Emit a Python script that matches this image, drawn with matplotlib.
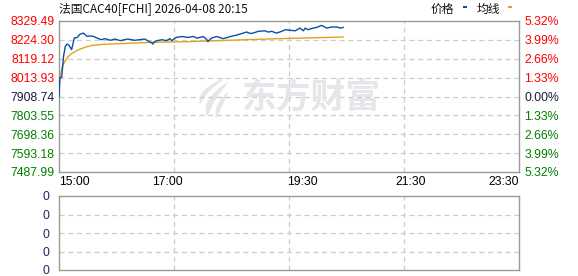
import matplotlib
matplotlib.use("Agg")
import matplotlib.pyplot as plt
from matplotlib.patches import Rectangle, Polygon
import numpy as np

# ---- data ----
title = "法国CAC40[FCHI] 2026-04-08 20:15"
prev_close = 7908.74
y_labels_left = ["8329.49", "8224.30", "8119.12", "8013.93", "7908.74",
                 "7803.55", "7698.36", "7593.18", "7487.99"]
y_labels_right = ["5.32%", "3.99%", "2.66%", "1.33%", "0.00%",
                  "1.33%", "2.66%", "3.99%", "5.32%"]
x_tick_minutes = [0, 120, 270, 390, 510]
x_tick_labels = ["15:00", "17:00", "19:30", "21:30", "23:30"]
session_minutes = 510

price_minutes = [0, 1, 3, 5, 7, 9, 11, 14, 17, 20, 23, 27, 31, 34, 38, 42, 47, 51,
                 57, 62, 68, 76, 84, 95, 103, 104, 106, 109, 114, 119, 123, 125,
                 130, 137, 142, 149, 153, 160, 164, 165, 169, 175, 182, 190, 197,
                 203, 208, 212, 215, 221, 228, 232, 236, 241, 247, 251, 256, 262,
                 267, 271, 273, 276, 282, 286, 291, 297, 302, 308, 312, 315]
price_values = [7908.7, 8015, 8015, 8132, 8188, 8201, 8195, 8170, 8235, 8237, 8255,
                8262, 8244, 8246, 8244, 8235, 8225, 8231, 8222, 8229, 8220, 8229,
                8222, 8229, 8207, 8201, 8215, 8220, 8225, 8220, 8231, 8220, 8238,
                8243, 8238, 8243, 8234, 8243, 8225, 8215, 8234, 8243, 8231, 8243,
                8251, 8260, 8268, 8260, 8262, 8272, 8275, 8268, 8272, 8262, 8272,
                8281, 8278, 8275, 8290, 8275, 8290, 8281, 8290, 8294, 8305, 8290,
                8296, 8296, 8290, 8294]

avg_minutes = [0, 2, 4, 7, 10, 14, 21, 29, 36, 51, 80, 106, 141, 170, 200, 230,
               260, 290, 315]
avg_values = [7975, 8040, 8080, 8107, 8130, 8148, 8168, 8183, 8193, 8200, 8206,
              8211, 8214, 8219, 8224, 8229, 8233, 8237, 8240]

vol_labels = ["0", "0", "0", "0", "0"]

# ---- style ----
W, H = 578, 276
fig = plt.figure(figsize=(W / 100, H / 100), dpi=100)
num_font = "Liberation Sans"
cjk = ["Noto Sans CJK SC", "DejaVu Sans"]
fs = 8.8
red = "#ff0000"
green = "#008000"
spine_c = "#999999"
grid_c = "#cccccc"
wm_c = "#e6e6ea"

def fx(px):
    return px / W

def fy(py):
    return 1 - py / H

ax = fig.add_axes([fx(59), fy(172), fx(519) - fx(59), fy(21) - fy(172)])
axv = fig.add_axes([fx(59), fy(270), fx(519) - fx(59), fy(196) - fy(270)])

ymin = float(y_labels_left[-1])
ymax = float(y_labels_left[0])
yticks = np.linspace(ymax, ymin, len(y_labels_left))

grid_x = np.linspace(0, session_minutes, 5)

# watermark (text + simple feather-like logo)
fig.text(fx(311), fy(97), "东方财富", family=cjk, fontsize=25, fontweight="bold",
         color=wm_c, ha="center", va="center", zorder=0)

def feather(x0, y0, x1, y1, bend, width):
    t = np.linspace(0, 1, 30)
    xs = x0 + (x1 - x0) * t + bend * np.sin(np.pi * t)
    ys = y0 + (y1 - y0) * t
    w = width * np.sin(np.pi * t) ** 0.7
    left = np.column_stack([fx(xs - w), fy(ys)])
    right = np.column_stack([fx(xs + w), fy(ys)])[::-1]
    return np.vstack([left, right])

for (x0, y0, x1, y1, b, w) in [(200, 104, 226, 77, -6, 3.0),
                                (207, 116, 228, 82, -5, 3.5),
                                (216, 118, 228, 92, -2, 2.5)]:
    fig.add_artist(Polygon(feather(x0, y0, x1, y1, b, w), closed=True,
                           transform=fig.transFigure, color=wm_c, lw=0, zorder=0))

for a in (ax, axv):
    a.set_xlim(0, session_minutes)
    for s in a.spines.values():
        s.set_color(spine_c)
        s.set_linewidth(1.0)
    a.set_facecolor("none")
    for gx in grid_x[1:-1]:
        a.axvline(gx, color=grid_c, lw=0.9, ls=(0, (4, 3)), zorder=1)

ax.set_ylim(ymin, ymax)
for gy in yticks[1:-1]:
    ax.axhline(gy, color=grid_c, lw=0.9, ls=(0, (4, 3)), zorder=1)

ax.plot(avg_minutes, avg_values, color="#e0a21f", lw=1.0, zorder=3)
ax.plot(price_minutes, price_values, color="#0a4fa3", lw=1.0, zorder=4)

ax.set_yticks(yticks)
ax.set_yticklabels(y_labels_left, family=num_font, fontsize=fs)
ax.tick_params(axis="y", length=0, pad=3)
for i, t in enumerate(ax.get_yticklabels()):
    t.set_color(red if i < 4 else ("#1a1a40" if i == 4 else green))

axr = ax.twinx()
axr.set_ylim(ymin, ymax)
axr.set_yticks(yticks)
axr.set_yticklabels(y_labels_right, family=num_font, fontsize=fs)
axr.tick_params(axis="y", length=0, pad=4)
for s in axr.spines.values():
    s.set_visible(False)
for i, t in enumerate(axr.get_yticklabels()):
    t.set_color(red if i < 4 else ("#1a1a40" if i == 4 else green))

ax.set_xticks(x_tick_minutes)
ax.set_xticklabels(x_tick_labels, family=num_font, fontsize=fs, color="black")
ax.tick_params(axis="x", length=0, pad=3)
labs = ax.get_xticklabels()
labs[0].set_ha("left")
labs[-1].set_ha("right")

# volume panel
axv.set_ylim(0, 4)
axv.set_yticks(np.linspace(4, 0, len(vol_labels)))
axv.set_yticklabels(vol_labels, family=num_font, fontsize=fs, color="#1a2a6a")
axv.tick_params(axis="y", length=0, pad=7)
axv.set_xticks([])
for gy in [1, 2, 3]:
    axv.axhline(gy, color=grid_c, lw=0.9, ls=(0, (4, 3)), zorder=1)

# title and legend
fig.text(fx(59), fy(8.5), title, family=cjk, fontsize=8.5, color="#111111",
         ha="left", va="center")
fig.text(fx(442), fy(9.5), "价格", family=cjk, fontsize=8.5, color="#111111",
         ha="center", va="center")
fig.text(fx(488), fy(9.5), "均线", family=cjk, fontsize=8.5, color="#111111",
         ha="center", va="center")
fig.add_artist(Rectangle((fx(462.5), fy(8)), fx(4.5), 2.2 / H, transform=fig.transFigure,
                         color="#0a4fa3", lw=0))
fig.add_artist(Rectangle((fx(507.5), fy(8)), fx(4.5), 2.2 / H, transform=fig.transFigure,
                         color="#e0a21f", lw=0))

fig.savefig("out.png", dpi=100, facecolor="white")
